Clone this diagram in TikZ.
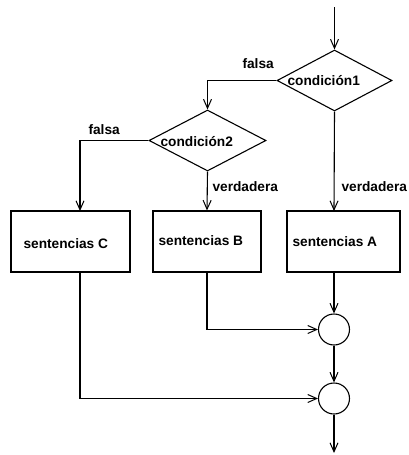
\documentclass[tikz,border=0pt]{standalone}
\usepackage{fontspec}
\setmainfont{Liberation Sans}
\usetikzlibrary{shapes.geometric,arrows.meta}
\begin{document}
\begin{tikzpicture}[x=1pt,y=-1pt,
  line width=1.1pt,
  every node/.style={font=\fontsize{13.7}{16}\selectfont\bfseries},
  cond/.style={diamond,draw,inner sep=0pt,minimum width=115pt,minimum height=61pt},
  box/.style={rectangle,draw,inner sep=0pt,minimum height=61pt},
  joint/.style={circle,draw,inner sep=0pt,minimum size=31pt},
  lbl/.style={inner sep=0pt,anchor=west},
  flow/.style={-{Straight Barb[length=9pt,width=8pt,line width=1pt]}}]
\useasboundingbox (0,0) rectangle (408,455);
% decisions
\node[cond] (d1) at (334.5,80.5) {};
\node[cond,minimum width=117pt] (d2) at (207.5,140.5) {};
\node[lbl] (c1) at (287,80.5) {condición1};
\node[lbl] (c2) at (160,141.5) {condición2};
% boxes
\node[box,minimum width=113pt] (bA) at (343.5,241.5) {};
\node[box,minimum width=108pt] (bB) at (207,241.5) {};
\node[box,minimum width=119pt] (bC) at (70.5,241.5) {};
\node[lbl] (tA) at (292,241.5) {sentencias A};
\node[lbl] (tB) at (158,240.5) {sentencias B};
\node[lbl] (tC) at (23,243.5) {sentencias C};
\coordinate (aIn) at (334,211);
\coordinate (aOut) at (334,272);
\coordinate (cIn) at (80,211);
\coordinate (cOut) at (80,272);
% joints
\node[joint] (k1) at (334,329.5) {};
\node[joint] (k2) at (334,398.5) {};
\coordinate (start) at (334.5,7);
\coordinate (end) at (334,453);
% labels
\node[lbl] (f1) at (242,64) {falsa};
\node[lbl] (f2) at (88,130) {falsa};
\node[lbl] (v1) at (212,187) {verdadera};
\node[lbl] (v2) at (341,187) {verdadera};
% connectors
\draw[flow] (start) -- (d1.north);
\draw[flow] (d1.west) -| (d2.north);
\draw[flow] (d2.west) -| (cIn);
\draw[flow] (d2.south) -- (bB.north);
\draw[flow] (d1.south) -- (aIn);
\draw[flow] (aOut) -- (k1.north);
\draw[flow] (bB.south) |- (k1.west);
\draw[flow] (k1.south) -- (k2.north);
\draw[flow] (cOut) |- (k2.west);
\draw[flow] (k2.south) -- (end);
\end{tikzpicture}
\end{document}
